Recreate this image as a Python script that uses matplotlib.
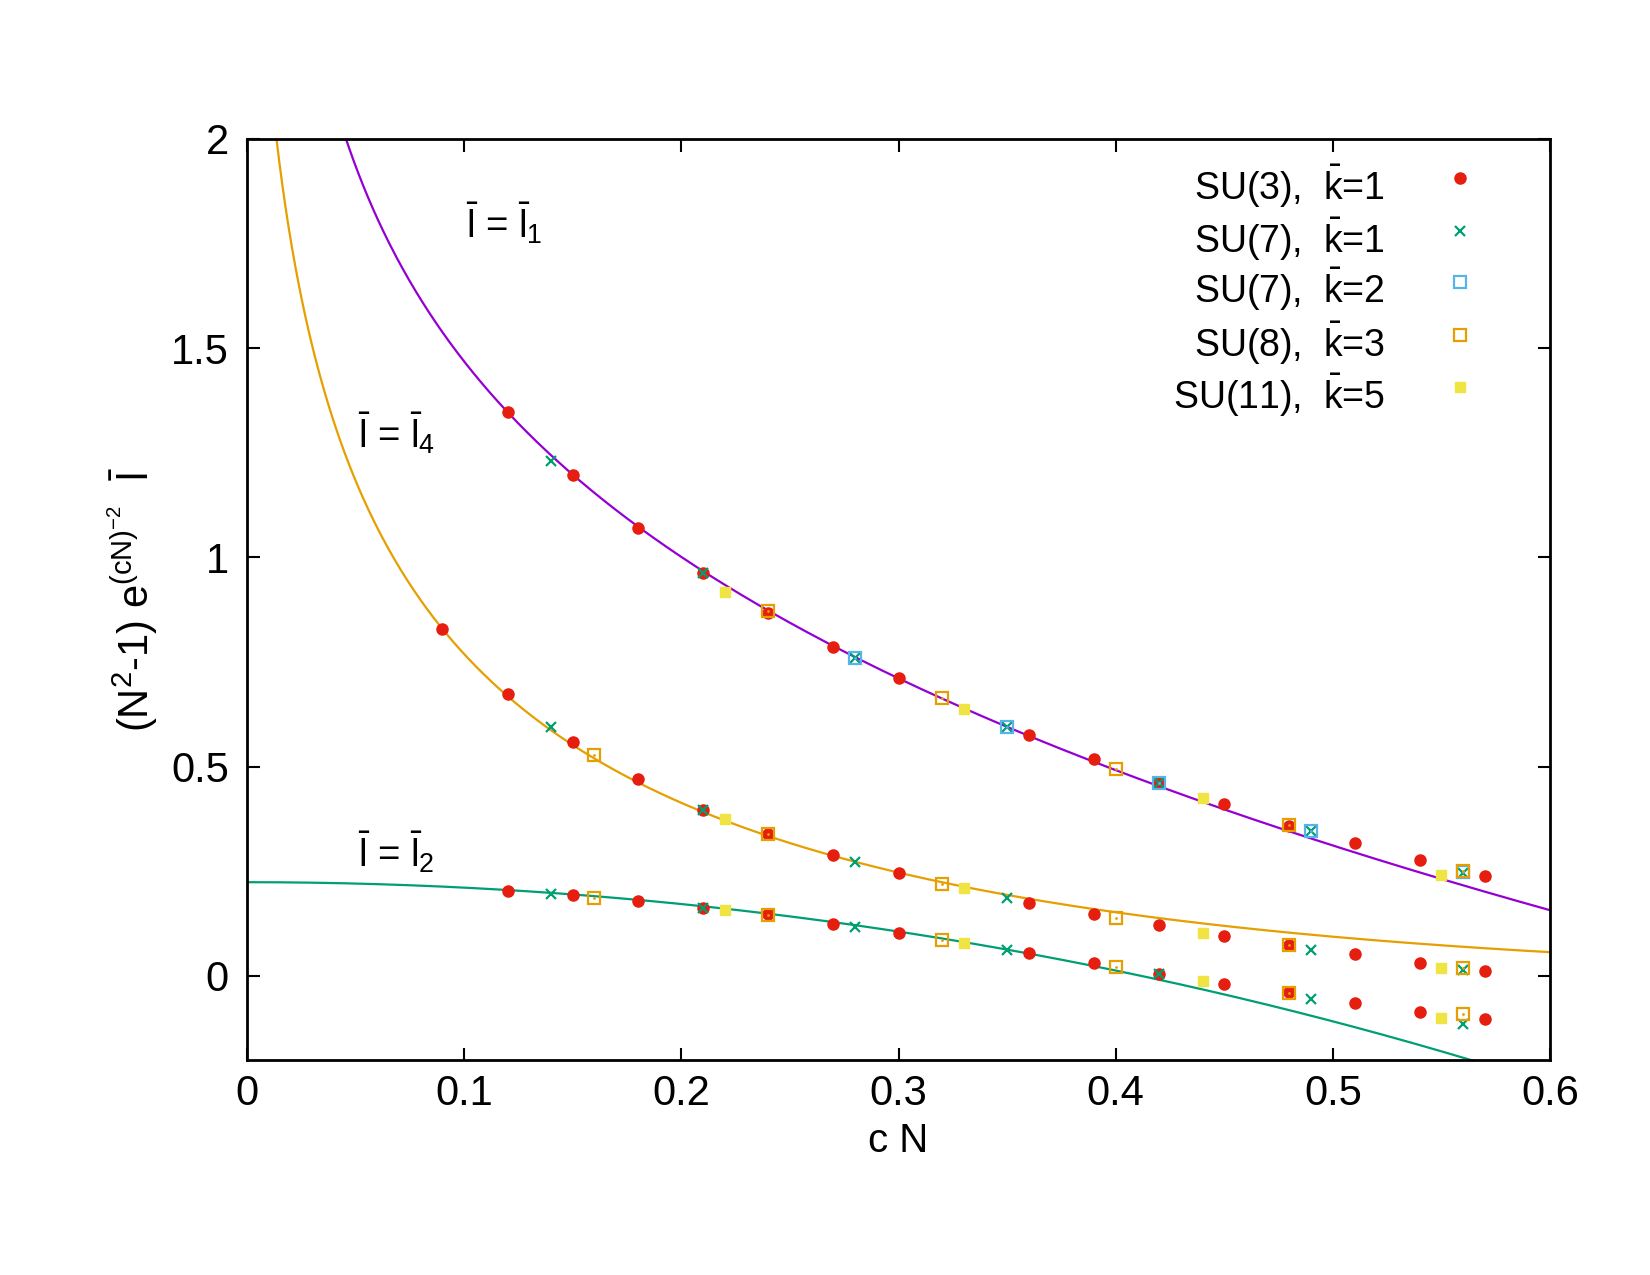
import numpy as np
import matplotlib
matplotlib.use("Agg")
import matplotlib.pyplot as plt

plt.rcParams['font.family'] = ['Liberation Sans', 'DejaVu Sans']
plt.rcParams['mathtext.fontset'] = 'custom'
plt.rcParams['mathtext.rm'] = 'Liberation Sans'
plt.rcParams['mathtext.it'] = 'Liberation Sans:italic'

nan = np.nan

# SU(3), kbar=1
cn_su3 = [0.09, 0.12, 0.15, 0.18, 0.21, 0.24, 0.27, 0.30, 0.36, 0.39, 0.42, 0.45, 0.48, 0.51, 0.54, 0.57]
su3_l1 = [nan, 1.347, 1.196, 1.070, 0.962, 0.867, 0.786, 0.711, 0.575, 0.518, 0.460, 0.410, 0.359, 0.318, 0.278, 0.239]
su3_l4 = [0.829, 0.673, 0.560, 0.470, 0.397, 0.339, 0.288, 0.246, 0.175, 0.147, 0.121, 0.095, 0.075, 0.052, 0.032, 0.011]
su3_l2 = [nan, 0.204, 0.193, 0.178, 0.163, 0.148, 0.125, 0.102, 0.056, 0.031, 0.005, -0.019, -0.038, -0.064, -0.086, -0.104]

# SU(7), kbar=1
cn_su7 = [0.14, 0.21, 0.28, 0.35, 0.42, 0.49, 0.56]
su7_l1 = [1.231, 0.962, 0.759, 0.595, 0.460, 0.346, 0.246]
su7_l4 = [0.595, 0.397, 0.273, 0.187, nan, 0.063, 0.014]
su7_l2 = [0.196, 0.163, 0.118, 0.063, 0.005, -0.054, -0.114]

# SU(7), kbar=2
cn_su7b = [0.28, 0.35, 0.42, 0.49, 0.56]
su7b_l1 = [0.759, 0.595, 0.460, 0.346, 0.248]

# SU(8), kbar=3
cn_su8 = [0.16, 0.24, 0.32, 0.40, 0.48, 0.56]
su8_l1 = [nan, 0.872, 0.663, 0.495, 0.360, 0.250]
su8_l4 = [0.528, 0.339, 0.220, 0.138, 0.073, 0.018]
su8_l2 = [0.186, 0.146, 0.086, 0.022, -0.040, -0.092]

# SU(11), kbar=5
cn_su11 = [0.22, 0.33, 0.44, 0.55]
su11_l1 = [0.917, 0.638, 0.426, 0.241]
su11_l4 = [0.374, 0.209, 0.103, 0.018]
su11_l2 = [0.158, 0.079, -0.012, -0.100]

# analytic curves: cubic in u = ln(x) - ln(0.3)
l1_coef = [0.711, -0.7404, -0.06999, -0.02123]
l4_coef = [0.247, -0.36538, 0.11914, 0.017529]
# l2: a - b x^2 - d x^4
l2_coef = [0.224, 1.3006, 0.117]


def logcubic(x, c):
    u = np.log(x) - np.log(0.3)
    return c[0] + c[1] * u + c[2] * u**2 + c[3] * u**3


RED = '#e51e10'
GREEN = '#009e73'
BLUE = '#56b4e9'
ORANGE = '#e69f00'
YELLOW = '#f0e442'
PURPLE = '#9400d3'

fig = plt.figure(figsize=(16.5, 12.75), dpi=100)
ax = fig.add_axes([0.1497, 0.1689, 0.7897, 0.7222])

xs = np.linspace(0.002, 0.6, 800)
ax.plot(xs, logcubic(xs, l1_coef), color=PURPLE, lw=1.6, zorder=2)
ax.plot(xs, logcubic(xs, l4_coef), color=ORANGE, lw=1.6, zorder=2)
x2 = np.linspace(0, 0.6, 400)
ax.plot(x2, l2_coef[0] - l2_coef[1] * x2**2 - l2_coef[2] * x2**4, color=GREEN, lw=1.6, zorder=2)

dot = dict(ls='none', marker='o', ms=8, color=RED, mec=RED, zorder=3)
cross = dict(ls='none', marker='x', ms=7.5, color=GREEN, mew=1.6, zorder=4)
sq_open = dict(ls='none', marker='s', ms=8, mfc='none', mew=1.6, zorder=5)
sq_fill = dict(ls='none', marker='s', ms=7.5, color=YELLOW, mec=YELLOW, zorder=6)

for ys in (su3_l1, su3_l4, su3_l2):
    ax.plot(cn_su3, ys, **dot)
for ys in (su7_l1, su7_l4, su7_l2):
    ax.plot(cn_su7, ys, **cross)
ax.plot(cn_su7b, su7b_l1, mec=BLUE, **sq_open)
ax.plot(cn_su7b, su7b_l1, ls='none', marker='.', ms=2, color=BLUE, zorder=5)
for ys in (su8_l1, su8_l4, su8_l2):
    ax.plot(cn_su8, ys, mec=ORANGE, **sq_open)
    ax.plot(cn_su8, ys, ls='none', marker='.', ms=2, color=ORANGE, zorder=5)
for ys in (su11_l1, su11_l4, su11_l2):
    ax.plot(cn_su11, ys, **sq_fill)

ax.set_xlim(0, 0.6)
ax.set_ylim(-0.2, 2)
ax.set_xticks([0, 0.1, 0.2, 0.3, 0.4, 0.5, 0.6])
ax.set_xticklabels(['0', '0.1', '0.2', '0.3', '0.4', '0.5', '0.6'])
ax.set_yticks([0, 0.5, 1, 1.5, 2])
ax.set_yticklabels(['0', '0.5', '1', '1.5', '2'])
ax.tick_params(direction='in', length=9, width=1.5, labelsize=30,
               top=True, right=True)
ax.tick_params(axis='x', pad=10)
ax.tick_params(axis='y', pad=13)
for s in ax.spines.values():
    s.set_linewidth(2)

ax.set_xlabel('c N', fontsize=29)
ax.xaxis.set_label_coords(0.5, -0.068)
ax.set_ylabel(r'(N$^2$-1) e$^{(\mathrm{cN})^{-2}}$  $\bar{\mathrm{l}}$', fontsize=30)
ax.yaxis.set_label_coords(-0.067, 0.5)

# curve labels
ax.text(0.101, 1.764, r'$\bar{\mathrm{l}}$ = $\bar{\mathrm{l}}_1$', fontsize=27.5, va='baseline')
ax.text(0.051, 1.262, r'$\bar{\mathrm{l}}$ = $\bar{\mathrm{l}}_4$', fontsize=27.5, va='baseline')
ax.text(0.051, 0.261, r'$\bar{\mathrm{l}}$ = $\bar{\mathrm{l}}_2$', fontsize=27.5, va='baseline')

# legend (gnuplot style: right-aligned text, sample on the right)
legend_labels = [r'SU(3),  $\bar{\mathrm{k}}$=1', r'SU(7),  $\bar{\mathrm{k}}$=1',
                 r'SU(7),  $\bar{\mathrm{k}}$=2', r'SU(8),  $\bar{\mathrm{k}}$=3',
                 r'SU(11),  $\bar{\mathrm{k}}$=5']
legend_styles = [dot, cross, dict(sq_open, mec=BLUE), dict(sq_open, mec=ORANGE), sq_fill]
row_y = [0.948, 0.891, 0.836, 0.778, 0.721]
for lab, st, yy in zip(legend_labels, legend_styles, row_y):
    ax.text(0.8734, yy, lab, transform=ax.transAxes, fontsize=27, ha='right', va='center')
    ax.plot([0.9306], [yy + 0.009], transform=ax.transAxes, clip_on=False, **st)

fig.savefig('out.png', dpi=100)
